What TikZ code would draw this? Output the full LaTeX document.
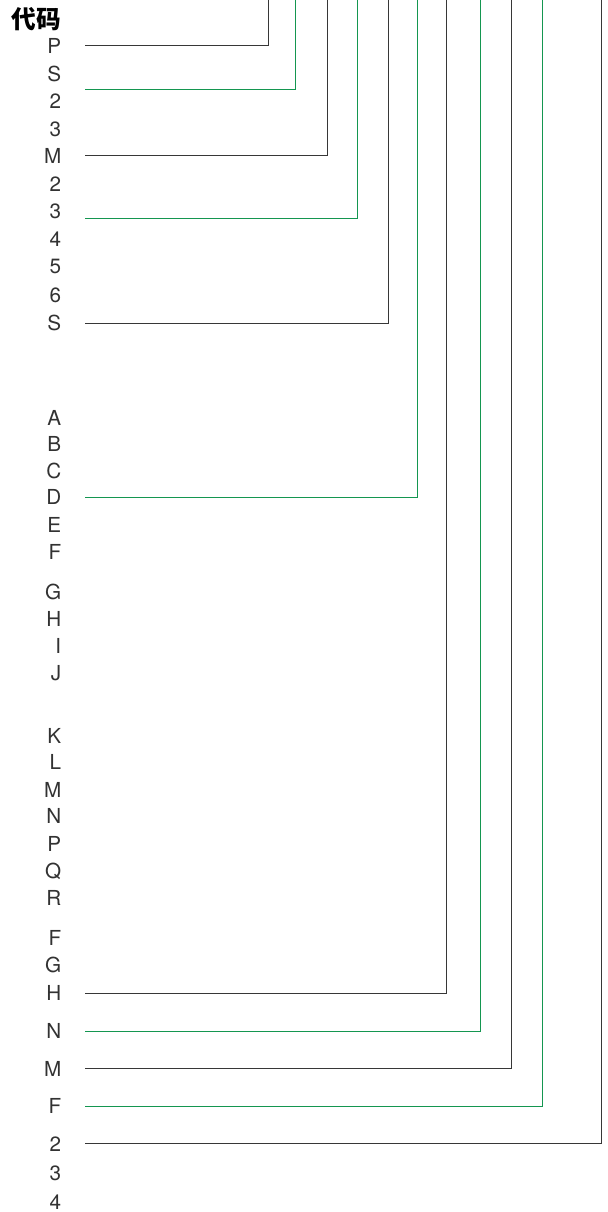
\documentclass[tikz,border=0pt]{standalone}
\usepackage{fontspec}
\setmainfont{TeX Gyre Heros}
\newfontfamily\cjk{Noto Sans CJK SC}
\usepackage{tikz}
\definecolor{lnblk}{RGB}{55,55,55}
\definecolor{lngrn}{RGB}{20,150,80}
\definecolor{txt}{RGB}{50,50,50}

\begin{document}
\begin{tikzpicture}[x=0.75pt,y=-0.75pt,
    lbl/.style={anchor=east,inner sep=0pt,text=txt,font=\fontsize{15.5}{18}\selectfont},
    blk/.style={draw=lnblk,line width=1pt},
    grn/.style={draw=lngrn,line width=1.25pt}]
  \useasboundingbox (0,0) rectangle (607,1212);

  \node[anchor=east,inner sep=0pt,font=\cjk\bfseries\fontsize{18.5}{20}\selectfont] (head) at (61,19) {代码};

  \foreach \t/\y [count=\i] in {P/46,S/74,2/101,3/129,M/156,2/184,3/211,4/239,5/266,6/295,S/323,
      A/418,B/444,C/471,D/497,E/525,F/552,G/592,H/619,I/646,J/673,
      K/736,L/762,M/790,N/816,P/844,Q/871,R/898,F/938,G/965,H/993,
      N/1031,M/1069,F/1106,2/1144,3/1173,4/1202}
    \node[lbl] (l\i) at (61.5,\y) {\t};

  \foreach \y/\x/\c [count=\k] in {45.5/268.5/blk,89.5/295.5/grn,155.5/327.5/blk,218.5/357.5/grn,
      323.5/388.5/blk,497.5/417.5/grn,993.5/446.5/blk,1031.5/480.5/grn,1068.5/511.5/blk,
      1106.5/542.5/grn,1143.5/601.5/blk}{
    \coordinate (a\k) at (85,\y);
    \coordinate (b\k) at (\x,0);
    \draw[\c] (a\k) -| (b\k);
  }
\end{tikzpicture}
\end{document}
